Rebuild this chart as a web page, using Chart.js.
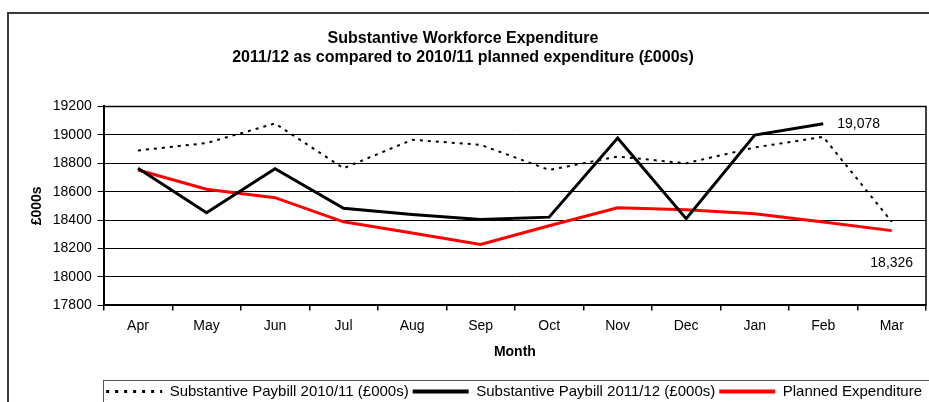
<!DOCTYPE html>
<html>
<head>
<meta charset="utf-8">
<script src="https://cdn.jsdelivr.net/npm/chart.js@4.4.1/dist/chart.umd.min.js"></script>
<style>
    html, body { margin: 0; padding: 0; background: #fff; }
    #wrap { width: 929px; height: 402px; position: relative; }
</style>
</head>
<body>
<div id="wrap"><canvas id="spendChart"></canvas></div>
<script>
const months = ['Apr', 'May', 'Jun', 'Jul', 'Aug', 'Sep', 'Oct', 'Nov', 'Dec', 'Jan', 'Feb', 'Mar'];
const paybill1011 = [18890, 18942, 19080, 18765, 18965, 18930, 18753, 18847, 18800, 18911, 18986, 18388];
const paybill1112 = [18765, 18452, 18762, 18483, 18440, 18405, 18421, 18977, 18410, 18998, 19078, null];
const planned = [18753, 18617, 18558, 18388, 18310, 18229, 18360, 18487, 18473, 18445, 18386, 18326];
const yTicks = [17800, 18000, 18200, 18400, 18600, 18800, 19000, 19200];

const FONT = 'Arial, "Liberation Sans", sans-serif';

// ramka wokol calego wykresu + obramowanie obszaru danych + legenda w ramce
const framePlugin = {
    id: 'frame',
    beforeDraw(chart) {
        const { ctx, width, height } = chart;
        ctx.save();
        ctx.strokeStyle = '#3a3a3a';
        ctx.lineWidth = 2;
        ctx.beginPath();
        ctx.moveTo(8, height + 2);
        ctx.lineTo(8, 13);
        ctx.lineTo(width + 2, 13);
        ctx.stroke();
        ctx.restore();
    },
    afterDraw(chart) {
        const { ctx, chartArea: a, legend } = chart;
        ctx.save();
        ctx.strokeStyle = '#000';
        ctx.lineWidth = 1.5;
        ctx.beginPath();
        ctx.moveTo(a.left, a.top);
        ctx.lineTo(a.right, a.top);
        ctx.lineTo(a.right, a.bottom);
        ctx.stroke();
        if (legend && legend.legendHitBoxes.length) {
            const first = legend.legendHitBoxes[0];
            ctx.strokeStyle = '#555';
            ctx.lineWidth = 1;
            ctx.strokeRect(Math.round(first.left) - 2.5, Math.round(legend.top) + 0.5, chart.width, legend.height + 20);
        }
        ctx.restore();
    }
};

// etykiety wartosci: ostatni punkt 2011/12 i marzec planu
const endLabels = {
    id: 'endLabels',
    afterDatasetsDraw(chart) {
        const { ctx } = chart;
        ctx.save();
        ctx.font = '14px ' + FONT;
        ctx.fillStyle = '#000';
        ctx.textBaseline = 'middle';

        const m1 = chart.getDatasetMeta(1);
        const i1 = paybill1112.length - 2;
        const p1 = m1.data[i1];
        ctx.textAlign = 'left';
        ctx.fillText(paybill1112[i1].toLocaleString('en-GB'), p1.x + 14, p1.y);

        const m2 = chart.getDatasetMeta(2);
        const i2 = planned.length - 1;
        const p2 = m2.data[i2];
        ctx.textAlign = 'center';
        ctx.fillText(planned[i2].toLocaleString('en-GB'), p2.x, p2.y + 33);
        ctx.restore();
    }
};

const ctx = document.getElementById('spendChart').getContext('2d');

new Chart(ctx, {
    type: 'line',
    data: {
        labels: months,
        datasets: [{
            label: 'Substantive Paybill 2010/11 (£000s)',
            data: paybill1011,
            borderColor: '#000',
            backgroundColor: '#000',
            borderWidth: 2,
            borderDash: [3, 5],
            pointRadius: 0,
            tension: 0,
            fill: false
        }, {
            label: 'Substantive Paybill 2011/12 (£000s)',
            data: paybill1112,
            borderColor: '#000',
            backgroundColor: '#000',
            borderWidth: 3,
            pointRadius: 0,
            tension: 0,
            fill: false
        }, {
            label: 'Planned Expenditure',
            data: planned,
            borderColor: '#ff0000',
            backgroundColor: '#ff0000',
            borderWidth: 3,
            pointRadius: 0,
            tension: 0,
            fill: false
        }]
    },
    options: {
        responsive: true,
        maintainAspectRatio: false,
        animation: false,
        layout: { padding: { left: 0, right: 3, top: 0, bottom: -7 } },
        plugins: {
            title: {
                display: true,
                text: ['Substantive Workforce Expenditure', '2011/12 as compared to 2010/11 planned expenditure (£000s)'],
                color: '#000',
                font: { family: FONT, size: 16, weight: 'bold', lineHeight: 1.2 },
                padding: { top: 29, bottom: 39 }
            },
            legend: {
                display: true,
                position: 'bottom',
                align: 'end',
                labels: {
                    color: '#000',
                    font: { family: FONT, size: 15 },
                    usePointStyle: true,
                    pointStyleWidth: 56,
                    padding: 4,
                    generateLabels(chart) {
                        return chart.data.datasets.map((ds, i) => ({
                            text: ds.label,
                            fillStyle: ds.borderColor,
                            strokeStyle: ds.borderColor,
                            lineWidth: ds.borderWidth + 1,
                            lineDash: ds.borderDash ? [3, 6] : [],
                            pointStyle: 'line',
                            fontColor: '#000',
                            datasetIndex: i,
                            hidden: false
                        }));
                    }
                }
            },
            tooltip: { enabled: false }
        },
        scales: {
            x: {
                offset: true,
                grid: {
                    offset: true,
                    drawOnChartArea: false,
                    drawTicks: true,
                    tickLength: 5,
                    color: '#000',
                    lineWidth: 1.5
                },
                border: { color: '#000', width: 2 },
                ticks: {
                    color: '#000',
                    font: { family: FONT, size: 14 },
                    padding: 7,
                    maxRotation: 0,
                    autoSkip: false
                },
                title: {
                    display: true,
                    text: 'Month',
                    color: '#000',
                    font: { family: FONT, size: 14, weight: 'bold' },
                    padding: { top: 3, bottom: 19 }
                }
            },
            y: {
                min: yTicks[0],
                max: yTicks[yTicks.length - 1],
                afterBuildTicks(scale) {
                    scale.ticks = yTicks.map(v => ({ value: v }));
                },
                grid: {
                    color: '#000',
                    lineWidth: 1,
                    drawTicks: true,
                    tickLength: 6
                },
                border: { color: '#000', width: 2 },
                ticks: {
                    color: '#000',
                    font: { family: FONT, size: 14 },
                    padding: 6,
                    callback: v => String(v)
                },
                title: {
                    display: true,
                    text: '£000s',
                    color: '#000',
                    font: { family: FONT, size: 14, weight: 'bold' },
                    padding: { top: 29, bottom: 1 }
                }
            }
        }
    },
    plugins: [framePlugin, endLabels]
});
</script>
</body>
</html>
